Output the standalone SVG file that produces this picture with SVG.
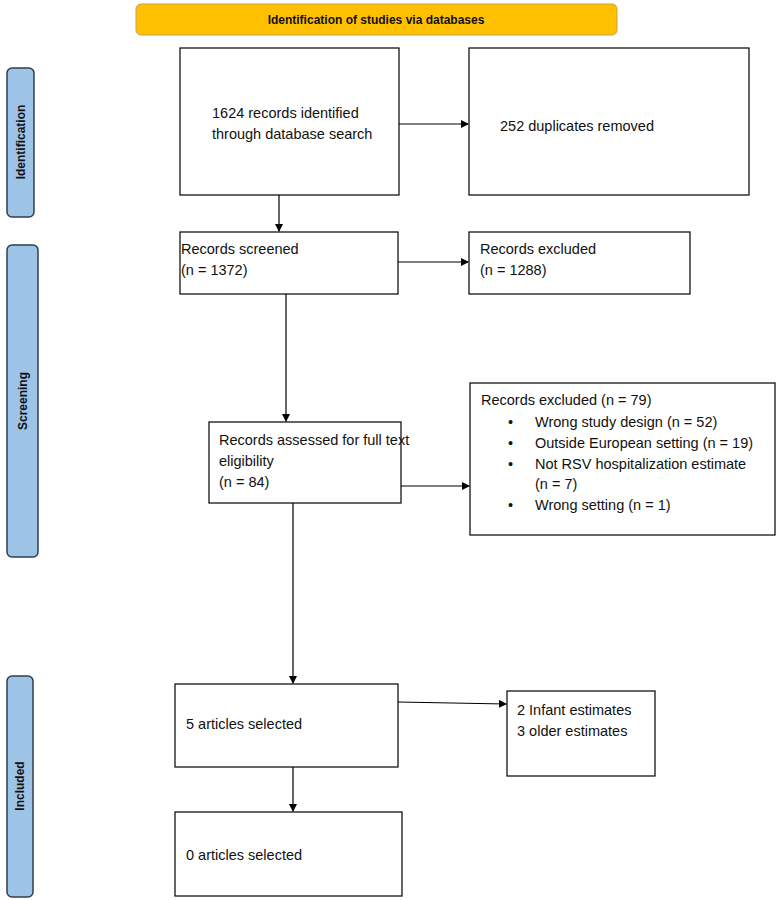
<svg xmlns="http://www.w3.org/2000/svg" width="778" height="900" viewBox="0 0 778 900">
<defs><marker id="a" markerWidth="8" markerHeight="8" refX="7" refY="4" orient="auto" markerUnits="userSpaceOnUse"><path d="M0,0 L8,4 L0,8 Z" fill="#000"/></marker></defs>
<style>
.b{fill:#fff;stroke:#000;stroke-width:1.2}
.s{fill:#9DC3E6;stroke:#2F3E4F;stroke-width:1.5}
.t{font-family:"Liberation Sans",Arial,sans-serif;font-size:14.5px;fill:#111}
.v{font-family:"Liberation Sans",Arial,sans-serif;font-size:12px;font-weight:bold;fill:#111;text-anchor:middle}
.c{stroke:#000;stroke-width:1.2;fill:none;marker-end:url(#a)}
</style>
<rect width="778" height="900" fill="#fff"/>
<g id="header"><rect x="136" y="4" width="481" height="31" rx="5" fill="#FFC000" stroke="#C9A04A"/><text class="v" x="376" y="24">Identification of studies via databases</text></g>
<g id="side-identification"><rect class="s" x="7" y="68" width="27" height="149" rx="5"/><text class="v" transform="translate(25,142) rotate(-90)">Identification</text></g>
<g id="side-screening"><rect class="s" x="7" y="245" width="31" height="312" rx="5"/><text class="v" transform="translate(27,401) rotate(-90)">Screening</text></g>
<g id="side-included"><rect class="s" x="7" y="676" width="26" height="221" rx="5"/><text class="v" transform="translate(24,786) rotate(-90)">Included</text></g>
<g id="identified"><rect class="b" x="180" y="48" width="219" height="147"/><text class="t" x="212" y="118">1624 records identified</text><text class="t" x="212" y="139">through database search</text></g>
<g id="duplicates"><rect class="b" x="469" y="48" width="280" height="147"/><text class="t" x="500" y="131">252 duplicates removed</text></g>
<g id="screened"><rect class="b" x="180" y="232" width="218" height="62"/><text class="t" x="181" y="254">Records screened</text><text class="t" x="181" y="275">(n = 1372)</text></g>
<g id="excluded1"><rect class="b" x="469" y="232" width="221" height="62"/><text class="t" x="480" y="254">Records excluded</text><text class="t" x="480" y="275">(n = 1288)</text></g>
<g id="assessed"><rect class="b" x="209" y="422" width="192" height="81"/><text class="t" x="219" y="445">Records assessed for full text</text><text class="t" x="219" y="466">eligibility</text><text class="t" x="219" y="487">(n = 84)</text></g>
<g id="excluded2"><rect class="b" x="470" y="383" width="305" height="152"/>
<text class="t" x="481" y="405">Records excluded (n = 79)</text>
<g class="t"><text x="508" y="427">•</text><text x="535" y="427">Wrong study design (n = 52)</text>
<text x="508" y="448">•</text><text x="535" y="448">Outside European setting (n = 19)</text>
<text x="508" y="469">•</text><text x="535" y="469">Not RSV hospitalization estimate</text><text x="535" y="489">(n = 7)</text>
<text x="508" y="510">•</text><text x="535" y="510">Wrong setting (n = 1)</text></g></g>
<g id="selected5"><rect class="b" x="175" y="684" width="223" height="83"/><text class="t" x="186" y="729">5 articles selected</text></g>
<g id="estimates"><rect class="b" x="507" y="691" width="148" height="85"/><text class="t" x="517" y="715">2 Infant estimates</text><text class="t" x="517" y="736">3 older estimates</text></g>
<g id="selected0"><rect class="b" x="175" y="812" width="227" height="84"/><text class="t" x="186" y="860">0 articles selected</text></g>
<g id="connectors">
<line class="c" x1="279" y1="195" x2="279" y2="231"/>
<line class="c" x1="399" y1="124" x2="468" y2="124"/>
<line class="c" x1="398" y1="262" x2="468" y2="262"/>
<line class="c" x1="286" y1="294" x2="286" y2="421"/>
<line class="c" x1="401" y1="486" x2="469" y2="486"/>
<line class="c" x1="293" y1="503" x2="293" y2="683"/>
<line class="c" x1="398" y1="702" x2="506" y2="704"/>
<line class="c" x1="293" y1="767" x2="293" y2="811"/>
</g>
</svg>
